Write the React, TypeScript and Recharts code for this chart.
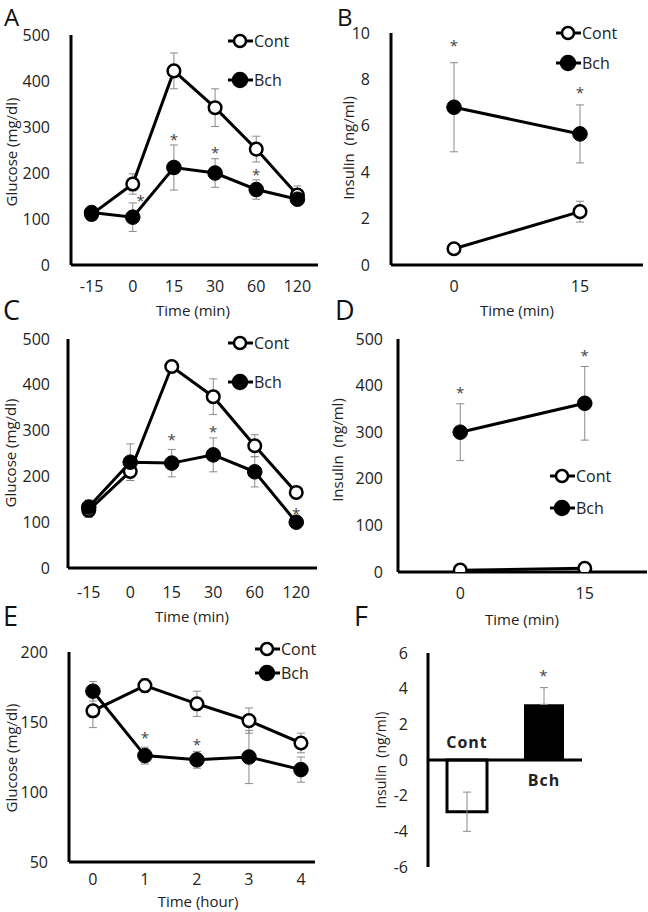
import { ComposedChart, Line, Bar, Cell, XAxis, YAxis, ErrorBar, ReferenceLine, LabelList } from 'recharts';

const FONT = '"Open Sans", sans-serif';

const timesMin = ['-15', '0', '15', '30', '60', '120'];
const insulinTimes = ['0', '15'];
const hours = [0, 1, 2, 3, 4];

// A - glucose, min
const aCont = [110, 176, 422, 342, 252, 152];
const aContErr = [8, 22, 39, 41, 28, 20];
const aBch = [114, 104, 212, 200, 164, 143];
const aBchErr = [8, 31, 49, 31, 21, 10];
const aStars = [null, 145, 278, 250, 202, null];

// B - insulin, min
const bCont = [0.7, 2.3];
const bContErr = [0.05, 0.45];
const bBch = [6.8, 5.65];
const bBchErr = [1.92, 1.25];
const bStars = [9.58, 7.54];

// C - glucose, min
const cCont = [126, 211, 440, 374, 267, 165];
const cContErr = [15, 20, 5, 39, 24, 5];
const cBch = [133, 231, 229, 247, 210, 100];
const cBchErr = [15, 40, 30, 37, 33, 4];
const cStars = [null, null, 287, 303, null, 125];

// D - insulin, min
const dCont = [4, 8];
const dContErr = [1, 2];
const dBch = [300, 362];
const dBchErr = [61, 79];
const dStars = [390, 470];

// E - glucose, hours
const eCont = [158, 176, 163, 151, 135];
const eContErr = [12, 5, 9, 9, 7];
const eBch = [172, 126, 123, 125, 116];
const eBchErr = [7, 6, 6, 19, 9];
const eStars = [null, 140.7, 136, null, null];

// F - insulin change
const fGroups = ['Cont', 'Bch'];
const fValues = [-2.9, 3.12];
const fErr = [[1.1, 1.1], [0, 0.94]];
const fStars = [null, 4.9];

const build = (xs: (string | number)[], cont: number[], contErr: number[], bch: number[], bchErr: number[], stars: (number | null)[]) =>
  xs.map((x, i) => ({ x, cont: cont[i], contErr: contErr[i], bch: bch[i], bchErr: bchErr[i], star: stars[i] }));

const aData = build(timesMin, aCont, aContErr, aBch, aBchErr, aStars);
const bData = build(insulinTimes, bCont, bContErr, bBch, bBchErr, bStars);
const cData = build(timesMin, cCont, cContErr, cBch, cBchErr, cStars);
const dData = build(insulinTimes, dCont, dContErr, dBch, dBchErr, dStars);
const eData = build(hours, eCont, eContErr, eBch, eBchErr, eStars);
const fData = fGroups.map((g, i) => ({ x: g, v: fValues[i], err: fErr[i], star: fStars[i] }));

const tickStyle = { fill: '#222', fontSize: 16, fontFamily: FONT };
const axisLine = { stroke: '#000', strokeWidth: 3 };

const starDot = (dxs?: number[]) => (p: any) => {
  const { cx, cy, value, index } = p;
  if (value == null || cy == null || Number.isNaN(cy)) return <g key={`s${index}`} />;
  return (
    <text key={`s${index}`} x={cx + (dxs?.[index] ?? 0)} y={cy + 8} textAnchor="middle" fontSize={15} fill="#444" fontFamily={FONT}>
      *
    </text>
  );
};

type Frame = {
  left: number; top: number; width: number; height: number;
  margin: { top: number; right: number; bottom: number; left: number };
  yW: number; xH: number; xGap: number; yGap: number;
};

function LinePanel(props: {
  data: any[]; frame: Frame; yDomain: number[]; yTicks: number[];
  numericX?: boolean; xDomain?: number[]; xTicks?: number[]; starDx?: number[];
}) {
  const { data, frame: f, yDomain, yTicks, numericX, xDomain, xTicks, starDx } = props;
  return (
    <div style={{ position: 'absolute', left: f.left, top: f.top }}>
      <ComposedChart width={f.width} height={f.height} data={data} margin={f.margin}>
        {numericX ? (
          <XAxis dataKey="x" type="number" domain={xDomain} ticks={xTicks} allowDataOverflow height={f.xH}
            tickLine={false} tickSize={6} tickMargin={f.xGap} axisLine={axisLine} tick={tickStyle} />
        ) : (
          <XAxis dataKey="x" scale="band" height={f.xH} interval={0}
            tickLine={false} tickSize={6} tickMargin={f.xGap} axisLine={axisLine} tick={tickStyle} />
        )}
        <YAxis type="number" domain={yDomain} ticks={yTicks} width={f.yW} allowDataOverflow interval={0}
          tickLine={false} tickSize={6} tickMargin={f.yGap} axisLine={axisLine} tick={tickStyle} />
        <Line dataKey="cont" stroke="#000" strokeWidth={3} isAnimationActive={false} activeDot={false}
          dot={{ r: 6.3, fill: '#fff', stroke: '#000', strokeWidth: 2.5 }}>
          <ErrorBar dataKey="contErr" width={4} stroke="#8a8a8a" strokeWidth={1} />
        </Line>
        <Line dataKey="bch" stroke="#000" strokeWidth={3} isAnimationActive={false} activeDot={false}
          dot={{ r: 7.3, fill: '#000', stroke: '#000', strokeWidth: 1 }}>
          <ErrorBar dataKey="bchErr" width={4} stroke="#8a8a8a" strokeWidth={1} />
        </Line>
        <Line dataKey="star" stroke="none" isAnimationActive={false} activeDot={false} dot={starDot(starDx)} />
      </ComposedChart>
    </div>
  );
}

function LegendItem({ x, y, filled, label }: { x: number; y: number; filled: boolean; label: string }) {
  return (
    <div style={{ position: 'absolute', left: x - 12, top: y - 11, height: 22, display: 'flex', alignItems: 'center' }}>
      <svg width={25} height={22}>
        <line x1={0} y1={11} x2={25} y2={11} stroke="#000" strokeWidth={3} />
        <circle cx={12} cy={11} r={filled ? 7 : 6} fill={filled ? '#000' : '#fff'} stroke="#000" strokeWidth={2.5} />
      </svg>
      <span style={{ fontFamily: FONT, fontSize: 16, color: '#222', marginLeft: 1 }}>{label}</span>
    </div>
  );
}

function Text({ x, y, children, size = 15, rotate = false }: { x: number; y: number; children: string; size?: number; rotate?: boolean }) {
  return (
    <div style={{
      position: 'absolute', left: x, top: y, fontFamily: FONT, fontSize: size, color: '#222', whiteSpace: 'pre',
      transform: `translate(-50%, -50%)${rotate ? ' rotate(-90deg)' : ''}`, lineHeight: 1,
    }}>{children}</div>
  );
}

function Letter({ x, y, children, size = 27 }: { x: number; y: number; children: string; size?: number }) {
  return (
    <div style={{ position: 'absolute', left: x, top: y, fontFamily: FONT, fontSize: size, color: '#111', lineHeight: 1 }}>
      {children}
    </div>
  );
}

export default function App() {
  const glucoseTicks = [0, 100, 200, 300, 400, 500];
  return (
    <div style={{ position: 'relative', width: 648, height: 912, background: '#fff', overflow: 'hidden' }}>
      <style>{'body{margin:0}'}</style>

      <LinePanel data={aData} yDomain={[0, 500]} yTicks={glucoseTicks} starDx={[0, 8, 0, 0, 0, 0]}
        frame={{ left: 0, top: 0, width: 330, height: 300, margin: { top: 35, right: 12, bottom: 5, left: 0 }, yW: 71, xH: 30, xGap: 10, yGap: 15 }} />
      <LinePanel data={bData} yDomain={[0, 10]} yTicks={[0, 2, 4, 6, 8, 10]}
        frame={{ left: 330, top: 0, width: 318, height: 300, margin: { top: 33, right: 5, bottom: 5, left: 0 }, yW: 61, xH: 30, xGap: 10, yGap: 15 }} />
      <LinePanel data={cData} yDomain={[0, 500]} yTicks={glucoseTicks}
        frame={{ left: 0, top: 300, width: 330, height: 312, margin: { top: 39, right: 13, bottom: 14, left: 0 }, yW: 68, xH: 30, xGap: 13, yGap: 12 }} />
      <LinePanel data={dData} yDomain={[0, 500]} yTicks={glucoseTicks}
        frame={{ left: 330, top: 300, width: 318, height: 312, margin: { top: 39, right: 1, bottom: 12, left: 0 }, yW: 68, xH: 28, xGap: 10, yGap: 9 }} />
      <LinePanel data={eData} yDomain={[50, 200]} yTicks={[50, 100, 150, 200]} numericX xDomain={[-0.46, 4.27]} xTicks={hours}
        frame={{ left: 0, top: 600, width: 330, height: 312, margin: { top: 52, right: 15, bottom: 20, left: 0 }, yW: 69, xH: 30, xGap: 6, yGap: 15 }} />

      <div style={{ position: 'absolute', left: 330, top: 600 }}>
        <ComposedChart width={318} height={312} data={fData} margin={{ top: 53, right: 66, bottom: 45, left: 0 }}>
          <XAxis dataKey="x" hide height={0} />
          <YAxis type="number" domain={[-6, 6]} ticks={[-6, -4, -2, 0, 2, 4, 6]} width={98} interval={0}
            tickLine={false} tickSize={6} tickMargin={14} axisLine={axisLine} tick={tickStyle} />
          <ReferenceLine y={0} stroke="#000" strokeWidth={3} />
          <Bar dataKey="v" barSize={40} isAnimationActive={false}>
            {fData.map((d, i) => (
              <Cell key={d.x} fill={i === 0 ? '#fff' : '#000'} stroke="#000" strokeWidth={i === 0 ? 3 : 0} />
            ))}
            <ErrorBar dataKey="err" width={4} stroke="#8a8a8a" strokeWidth={1} />
            <LabelList dataKey="x" content={(p: any) => {
              const { x, y, width, height, value, index } = p;
              const neg = fValues[index] < 0;
              const zeroY = neg ? Math.min(y, y + height) : Math.max(y, y + height);
              return (
                <text x={x + width / 2} y={neg ? zeroY - 12 : zeroY + 26} textAnchor="middle" fontFamily={FONT}
                  fontWeight={700} fontSize={16} letterSpacing={1} fill="#222">{value}</text>
              );
            }} />
          </Bar>
          <Line dataKey="star" stroke="none" isAnimationActive={false} activeDot={false} dot={starDot()} />
        </ComposedChart>
      </div>

      <LegendItem x={240} y={41} filled={false} label="Cont" />
      <LegendItem x={240} y={80} filled label="Bch" />
      <LegendItem x={568} y={33} filled={false} label="Cont" />
      <LegendItem x={568} y={63} filled label="Bch" />
      <LegendItem x={240} y={343} filled={false} label="Cont" />
      <LegendItem x={240} y={382} filled label="Bch" />
      <LegendItem x={562} y={476} filled={false} label="Cont" />
      <LegendItem x={562} y={508} filled label="Bch" />
      <LegendItem x={267} y={649} filled={false} label="Cont" />
      <LegendItem x={267} y={673} filled label="Bch" />

      <Text x={11} y={152} rotate>Glucose (mg/dl)</Text>
      <Text x={193} y={310}>Time (min)</Text>
      <Text x={348} y={148} rotate>{'Insulin  (ng/ml)'}</Text>
      <Text x={517} y={310}>Time (min)</Text>
      <Text x={10} y={453} rotate>Glucose (mg/dl)</Text>
      <Text x={192} y={616}>Time (min)</Text>
      <Text x={337} y={450} rotate>{'Insulin  (ng/ml)'}</Text>
      <Text x={522} y={619}>Time (min)</Text>
      <Text x={11} y={758} rotate>Glucose (mg/dl)</Text>
      <Text x={198} y={901} size={15}>Time (hour)</Text>
      <Text x={381} y={760} size={14} rotate>{'Insulin  (ng/ml)'}</Text>

      <Letter x={4} y={5} size={24}>A</Letter>
      <Letter x={337} y={5} size={24}>B</Letter>
      <Letter x={3} y={296}>C</Letter>
      <Letter x={335} y={296}>D</Letter>
      <Letter x={3} y={602}>E</Letter>
      <Letter x={354} y={602}>F</Letter>
    </div>
  );
}
